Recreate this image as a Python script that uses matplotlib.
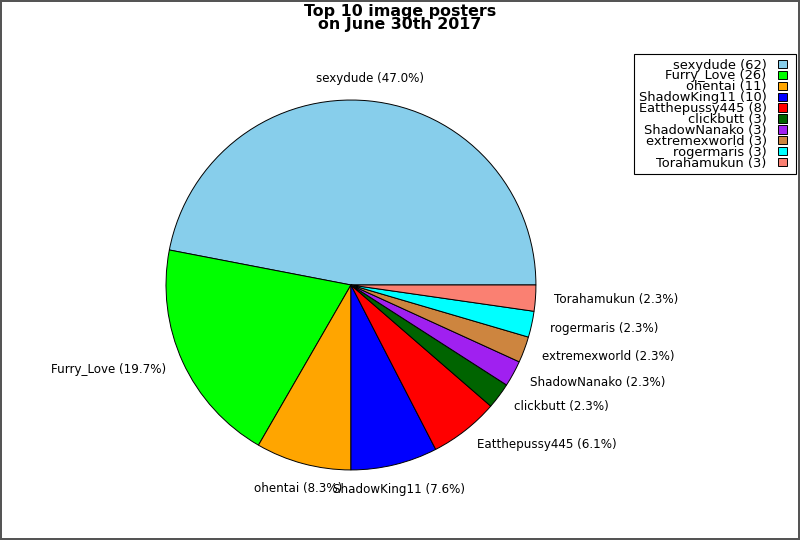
"""Pie chart of the top 10 image posters."""

import math

import matplotlib
import matplotlib.pyplot as plt
from matplotlib.legend_handler import HandlerPatch
from matplotlib.patches import Rectangle

matplotlib.use("Agg")

# Data
posters = [
    "sexydude",
    "Furry_Love",
    "ohentai",
    "ShadowKing11",
    "Eatthepussy445",
    "clickbutt",
    "ShadowNanako",
    "extremexworld",
    "rogermaris",
    "Torahamukun",
]
counts = [62, 26, 11, 10, 8, 3, 3, 3, 3, 3]
colors = [
    "skyblue",
    "lime",
    "orange",
    "blue",
    "red",
    "darkgreen",
    "#a020f0",
    "peru",
    "cyan",
    "salmon",
]

total = sum(counts)
pie_labels = [f"{n} ({c / total * 100:.1f}%)" for n, c in zip(posters, counts)]
legend_labels = [f"{n} ({c})" for n, c in zip(posters, counts)]


def square_patch(legend, orig_handle, xdescent, ydescent, width, height, fontsize):
    # small square at the left of the handle box, leaving room on the right
    return Rectangle((-xdescent, -ydescent), height, height)


fig = plt.figure(figsize=(8, 5.4), dpi=100)
fig.patch.set_edgecolor("#555555")
fig.patch.set_linewidth(1.5)

ax = fig.add_axes([0.1497, 0.044, 0.578, 0.8565])
wedges, texts = ax.pie(
    counts,
    labels=pie_labels,
    colors=colors,
    startangle=0,
    counterclock=True,
    wedgeprops={"edgecolor": "black", "linewidth": 0.7},
    textprops={"fontsize": 8.6},
)
ax.set_aspect("equal")

# Labels near the top/bottom are centred over their wedge, the rest sit beside it
for wedge, text in zip(wedges, texts):
    mid = math.radians((wedge.theta1 + wedge.theta2) / 2)
    if abs(math.cos(mid)) < 0.5:
        text.set_ha("center")
        text.set_va("baseline" if math.sin(mid) > 0 else "top")
    else:
        text.set_ha("left" if math.cos(mid) > 0 else "right")
        text.set_va("center")

fig.suptitle(
    "Top 10 image posters\non June 30th 2017",
    fontsize=11.4,
    fontweight="bold",
    y=0.993,
    linespacing=0.84,
)

# Legend: text right-aligned, colour box after the text
leg = fig.legend(
    wedges,
    legend_labels,
    loc="upper right",
    bbox_to_anchor=(0.995, 0.9),
    borderaxespad=0,
    fontsize=9.4,
    markerfirst=False,
    fancybox=False,
    edgecolor="black",
    framealpha=1,
    labelspacing=-0.16,
    handlelength=1.0,
    handleheight=0.6,
    handletextpad=0.9,
    borderpad=0.35,
    handler_map={wedges[0].__class__: HandlerPatch(patch_func=square_patch)},
)
leg.get_frame().set_linewidth(0.8)
for t in leg.get_texts():
    t.set_ha("right")

fig.savefig("out.png", dpi=100)
plt.close(fig)
